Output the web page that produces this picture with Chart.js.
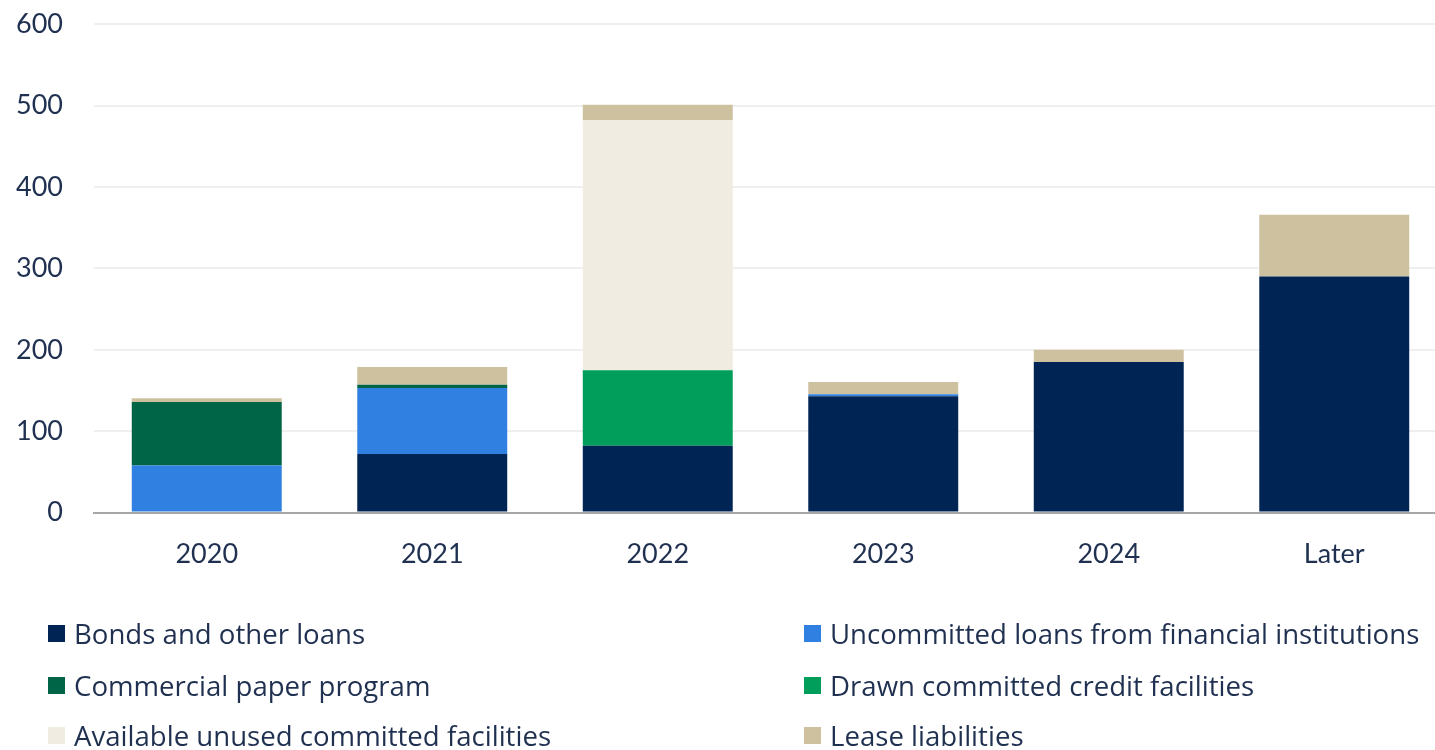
<!DOCTYPE html>
<html>
<head>
<meta charset="utf-8">
<script src="https://cdn.jsdelivr.net/npm/chart.js@4.4.1/dist/chart.umd.min.js"></script>
<style>
  html, body { margin: 0; padding: 0; background: #fff; overflow: hidden; }
  body { width: 1435px; height: 750px; position: relative; }
  #debtChart { position: absolute; left: 0; top: -23px; }
  #legend { position: absolute; left: 0; top: 0; width: 1435px; height: 750px; pointer-events: none; }
  .item { position: absolute; display: flex; align-items: center; font-family: "Open Sans", Lato, sans-serif; font-size: 27.6px; color: #1f3050; white-space: nowrap; }
  .item .box { width: 17px; height: 17px; margin-right: 9px; }
</style>
</head>
<body>
<canvas id="debtChart" width="1447" height="610"></canvas>
<div id="legend"></div>
<script>
const years = ['2020', '2021', '2022', '2023', '2024', 'Later'];
const yTicks = [0, 100, 200, 300, 400, 500, 600];

const bondsLoans = [0, 72, 82, 143, 185, 290];
const uncommittedLoans = [58, 81, 0, 2.5, 0, 0];
const commercialPaper = [78, 4, 0, 0, 0, 0];
const drawnFacilities = [0, 0, 93, 0, 0, 0];
const availableFacilities = [0, 0, 307, 0, 0, 0];
const leaseLiabilities = [4.5, 22, 19, 15, 15, 76];

const seriesNames = [
  'Bonds and other loans',
  'Uncommitted loans from financial institutions',
  'Commercial paper program',
  'Drawn committed credit facilities',
  'Available unused committed facilities',
  'Lease liabilities'
];
const seriesColors = ['#002454', '#2f80e0', '#006446', '#009e5a', '#f1ece2', '#cec19f'];
const seriesData = [bondsLoans, uncommittedLoans, commercialPaper, drawnFacilities, availableFacilities, leaseLiabilities];

const textColor = '#1f3050';
const fontFamily = 'Lato, "Open Sans", sans-serif';

const datasets = seriesNames.map((name, idx) => ({
  label: name,
  data: seriesData[idx],
  backgroundColor: seriesColors[idx],
  borderWidth: 0,
  barPercentage: 0.665,
  categoryPercentage: 1
}));

const ctx = document.getElementById('debtChart').getContext('2d');
const chart = new Chart(ctx, {
  type: 'bar',
  data: { labels: years, datasets },
  options: {
    responsive: false,
    animation: false,
    layout: { padding: { top: 8, right: 0, bottom: 0, left: 0 } },
    plugins: { legend: { display: false }, tooltip: { enabled: false } },
    scales: {
      x: {
        stacked: true,
        grid: { display: false },
        border: { display: true, color: '#a6a6a6', width: 2 },
        ticks: { color: textColor, font: { family: fontFamily, size: 27 }, padding: 17 }
      },
      y: {
        stacked: true,
        min: 0,
        max: 600,
        afterFit: scale => { scale.width = 94; },
        afterBuildTicks: scale => { scale.ticks = yTicks.map(v => ({ value: v })); },
        grid: {
          color: ctx => (ctx.tick && ctx.tick.value === 0 ? 'rgba(0,0,0,0)' : '#efefef'),
          lineWidth: 2,
          drawTicks: false
        },
        border: { display: false },
        ticks: { color: textColor, font: { family: fontFamily, size: 27 }, padding: 31 }
      }
    }
  }
});

// two-column legend below the plot
const legendEl = document.getElementById('legend');
const colLeft = [48, 804];
const rowTop = [618, 670, 720];
seriesNames.forEach((name, idx) => {
  const item = document.createElement('div');
  item.className = 'item';
  item.style.left = colLeft[idx % 2] + 'px';
  item.style.top = rowTop[Math.floor(idx / 2)] + 'px';
  item.style.height = '30px';
  const box = document.createElement('span');
  box.className = 'box';
  box.style.background = seriesColors[idx];
  const label = document.createElement('span');
  label.textContent = name;
  item.appendChild(box);
  item.appendChild(label);
  legendEl.appendChild(item);
});
</script>
</body>
</html>
